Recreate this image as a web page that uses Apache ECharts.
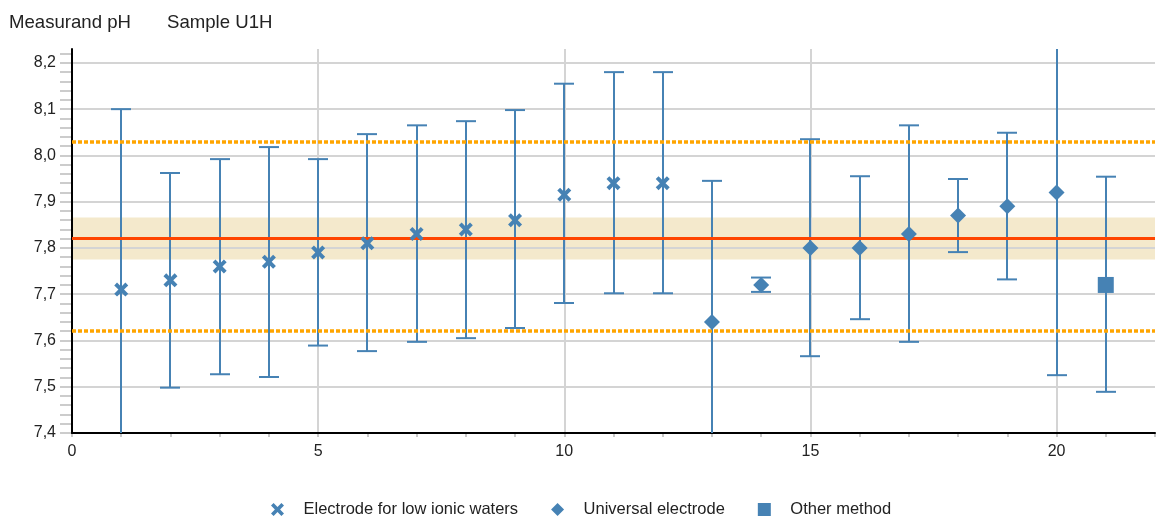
<!DOCTYPE html>
<html>
<head>
<meta charset="utf-8">
<script src="https://cdn.jsdelivr.net/npm/echarts@6/dist/echarts.min.js"></script>
<style>
html,body{margin:0;padding:0;background:#fff;}
#chart{width:1157px;height:516px;}
</style>
</head>
<body>
<div id="chart"></div>
<script>
// ---- Data ----
const lowIonicX    = [1, 2, 3, 4, 5, 6, 7, 8, 9, 10, 11, 12];
const lowIonicVal  = [7.71, 7.73, 7.76, 7.77, 7.79, 7.81, 7.83, 7.84, 7.86, 7.915, 7.94, 7.94];
const lowIonicLow  = [7.32, 7.498, 7.527, 7.521, 7.589, 7.577, 7.597, 7.605, 7.627, 7.681, 7.702, 7.702];
const lowIonicHigh = [8.10, 7.962, 7.992, 8.018, 7.992, 8.046, 8.065, 8.074, 8.098, 8.155, 8.18, 8.18];

const universalX    = [13, 14, 15, 16, 17, 18, 19, 20];
const universalVal  = [7.64, 7.72, 7.80, 7.80, 7.83, 7.87, 7.89, 7.92];
const universalLow  = [7.335, 7.705, 7.566, 7.646, 7.597, 7.791, 7.732, 7.525];
const universalHigh = [7.945, 7.736, 8.035, 7.955, 8.065, 7.949, 8.049, 8.317];

const otherX    = [21];
const otherVal  = [7.72];
const otherLow  = [7.489];
const otherHigh = [7.954];

const assignedValue = 7.82;
const bandLow = 7.775;
const bandHigh = 7.866;
const limitHigh = 8.026;
const limitLow = 7.615;

const seriesNames = ['Electrode for low ionic waters', 'Universal electrode', 'Other method'];
const titleMeasurand = 'Measurand pH';
const titleSample = 'Sample U1H';
const yTickLabels = ['7,4', '7,5', '7,6', '7,7', '7,8', '7,9', '8,0', '8,1', '8,2'];
const xTickLabels = ['0', '5', '10', '15', '20'];

// ---- Build ----
const BLUE = '#4682b4';
const FONT = 'Liberation Sans, Arial, sans-serif';
const crossPath = 'path://M0,2L2,0L5,3L8,0L10,2L7,5L10,8L8,10L5,7L2,10L0,8L3,5Z';
const diamondPath = 'path://M5,0L10,5L5,10L0,5Z';
const squarePath = 'path://M0,0L10,0L10,10L0,10Z';

function pts(xs, vs) { return xs.map((x, i) => [x, vs[i]]); }
function bars(xs, vs, lo, hi) { return xs.map((x, i) => [x, vs[i], lo[i], hi[i]]); }
const errData = [].concat(
  bars(lowIonicX, lowIonicVal, lowIonicLow, lowIonicHigh),
  bars(universalX, universalVal, universalLow, universalHigh),
  bars(otherX, otherVal, otherLow, otherHigh)
);

const chart = echarts.init(document.getElementById('chart'), null, {renderer: 'canvas'});
const option = {
  animation: false,
  backgroundColor: '#fff',
  textStyle: {fontFamily: FONT},
  title: [
    {text: titleMeasurand, left: 9, top: 13, padding: 0, textStyle: {fontSize: 18.6, fontWeight: 'normal', color: '#222', fontFamily: FONT}},
    {text: titleSample, left: 167, top: 13, padding: 0, textStyle: {fontSize: 18.6, fontWeight: 'normal', color: '#222', fontFamily: FONT}}
  ],
  legend: {
    data: seriesNames,
    left: 266, top: 496,
    itemWidth: 42, itemHeight: 13, itemGap: 33,
    selectedMode: false,
    itemStyle: {opacity: 1},
    textStyle: {fontSize: 16.5, color: '#222', fontFamily: FONT}
  },
  grid: [
    {left: 72, right: 2, top: 49, bottom: 83},
    {left: 72, right: 2, top: 433 - 0.82 * (384 / 0.83), bottom: 83}
  ],
  xAxis: [
    {
      type: 'value', gridIndex: 0, min: 0, max: 22, interval: 5,
      axisLine: {show: true, onZero: false, lineStyle: {color: '#000', width: 2}},
      axisTick: {show: false},
      axisLabel: {
        show: true, margin: 11, fontSize: 16, color: '#222', fontFamily: FONT, showMaxLabel: false,
        formatter: v => { const i = Math.round(v / 5); return (Math.abs(v - i * 5) < 1e-6 && xTickLabels[i] !== undefined) ? xTickLabels[i] : ''; }
      },
      splitLine: {show: true, showMinLine: false, showMaxLine: false, lineStyle: {color: '#d4d4d4', width: 2}},
      z: 2
    },
    {
      type: 'value', gridIndex: 0, min: 0, max: 22, interval: 1, position: 'bottom',
      axisLine: {show: false},
      axisTick: {show: true, length: 4, lineStyle: {color: '#c8c8c8', width: 2}},
      axisLabel: {show: false},
      splitLine: {show: false}
    },
    {type: 'value', gridIndex: 1, min: 0, max: 22, show: false}
  ],
  yAxis: [
    {
      type: 'value', gridIndex: 0, min: 7.4, max: 8.23, interval: 0.1,
      axisLine: {show: true, onZero: false, lineStyle: {color: '#000', width: 2}},
      axisTick: {show: false},
      axisLabel: {
        show: true, margin: 16, fontSize: 16, color: '#222', fontFamily: FONT, showMaxLabel: false,
        formatter: v => { const i = Math.round((v - 7.4) / 0.1); return (Math.abs(v - (7.4 + i * 0.1)) < 1e-6 && yTickLabels[i] !== undefined) ? yTickLabels[i] : ''; }
      },
      splitLine: {show: true, showMinLine: false, showMaxLine: false, lineStyle: {color: '#d4d4d4', width: 2}},
      z: 2
    },
    {
      type: 'value', gridIndex: 1, min: 7.4, max: 8.22, interval: 0.02,
      axisLine: {show: false},
      axisTick: {show: true, length: 12, lineStyle: {color: '#cccccc', width: 2}},
      axisLabel: {show: false},
      splitLine: {show: false}
    }
  ],
  series: [
    {
      type: 'custom',
      name: 'errorbars',
      xAxisIndex: 0, yAxisIndex: 0,
      data: errData,
      z: 3,
      silent: true,
      renderItem: function (params, api) {
        const cs = params.coordSys;
        const top = cs.y, bot = cs.y + cs.height;
        const x = api.value(0);
        const pLo = api.coord([x, api.value(2)]);
        const pHi = api.coord([x, api.value(3)]);
        const px = Math.round(pLo[0]);
        const clamp = y => Math.max(top, Math.min(bot, y));
        const y1 = clamp(pHi[1]), y2 = clamp(pLo[1]);
        const style = {stroke: BLUE, lineWidth: 2};
        const children = [{type: 'line', shape: {x1: px, y1: y1, x2: px, y2: y2}, style: style}];
        const half = 10;
        if (pHi[1] >= top && pHi[1] <= bot) children.push({type: 'line', shape: {x1: px - half, y1: pHi[1], x2: px + half, y2: pHi[1]}, style: style});
        if (pLo[1] >= top && pLo[1] <= bot) children.push({type: 'line', shape: {x1: px - half, y1: pLo[1], x2: px + half, y2: pLo[1]}, style: style});
        return {type: 'group', children: children};
      },
      markArea: {
        silent: true,
        itemStyle: {color: 'rgba(222,188,95,0.32)'},
        data: [[{yAxis: bandLow}, {yAxis: bandHigh}]]
      },
      markLine: {
        silent: true,
        z: 4,
        symbol: ['none', 'none'],
        label: {show: false},
        data: [
          {yAxis: assignedValue, lineStyle: {color: '#ff4500', width: 3, type: 'solid'}},
          {yAxis: limitHigh, lineStyle: {color: '#ffa500', width: 3.5, type: [4, 2]}},
          {yAxis: limitLow, lineStyle: {color: '#ffa500', width: 3.5, type: [4, 2]}}
        ]
      }
    },
    {
      type: 'scatter', name: seriesNames[0], data: pts(lowIonicX, lowIonicVal),
      symbol: crossPath, symbolSize: 14, symbolKeepAspect: true,
      itemStyle: {color: BLUE, opacity: 1}, z: 6, silent: true
    },
    {
      type: 'scatter', name: seriesNames[1], data: pts(universalX, universalVal),
      symbol: diamondPath, symbolSize: 16, symbolKeepAspect: true,
      itemStyle: {color: BLUE, opacity: 1}, z: 6, silent: true
    },
    {
      type: 'scatter', name: seriesNames[2], data: pts(otherX, otherVal),
      symbol: squarePath, symbolSize: 16, symbolKeepAspect: true,
      itemStyle: {color: BLUE, opacity: 1}, z: 6, silent: true
    }
  ]
};
chart.setOption(option);
</script>
</body>
</html>
